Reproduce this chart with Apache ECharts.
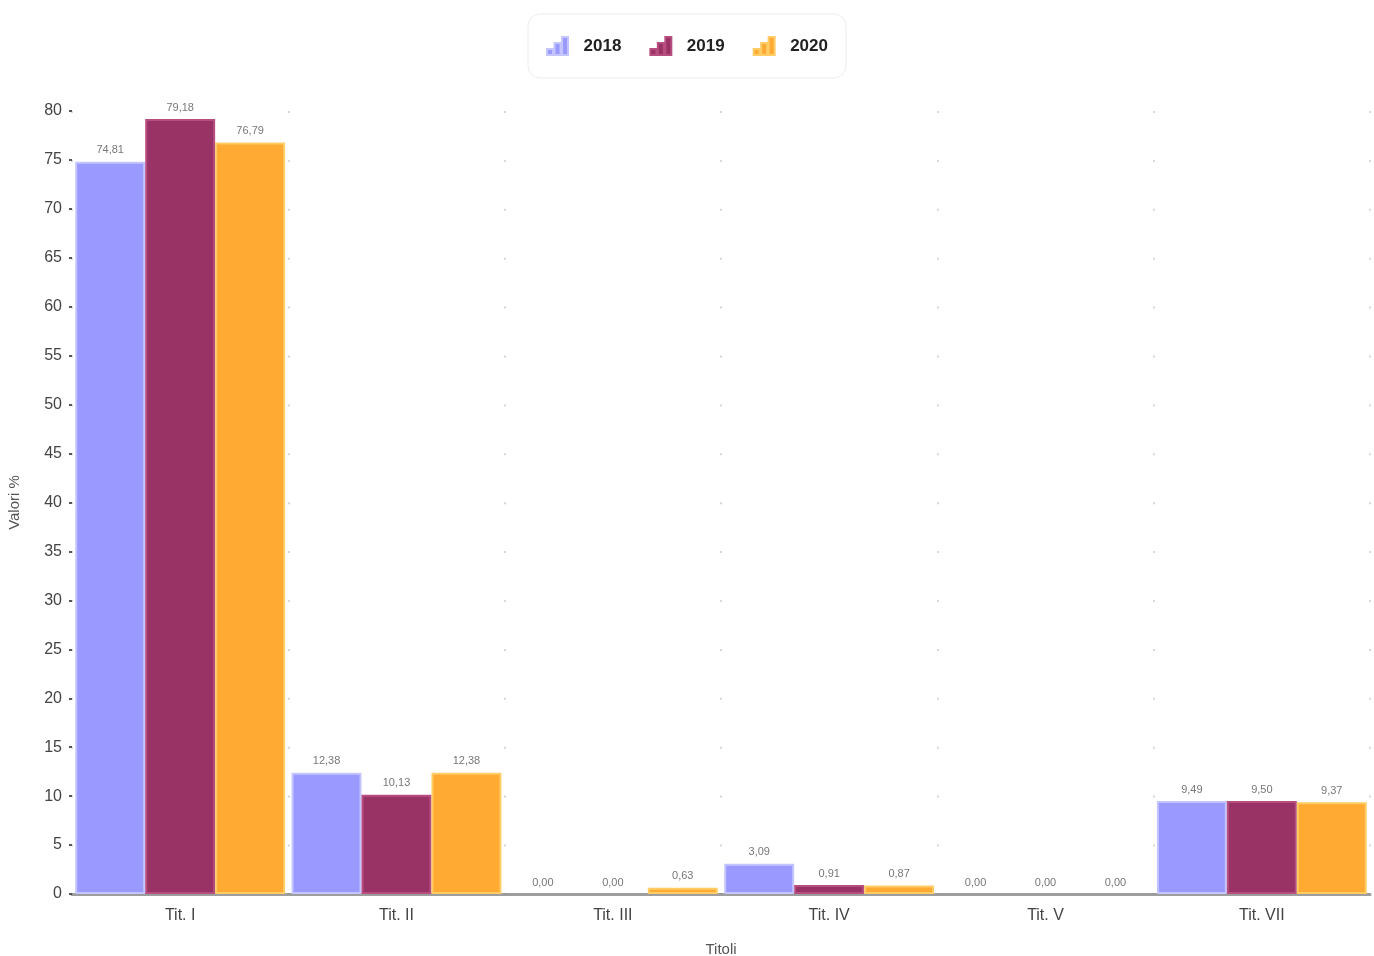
<!DOCTYPE html>
<html><head><meta charset="utf-8">
<script src="https://cdn.jsdelivr.net/npm/echarts@6/dist/echarts.min.js"></script>
<style>html,body{margin:0;padding:0;background:#fff}#c{width:1374px;height:956px}</style>
</head><body><div id="c"></div>
<script>
const categories = ['Tit. I', 'Tit. II', 'Tit. III', 'Tit. IV', 'Tit. V', 'Tit. VII'];
const years = ['2018', '2019', '2020'];
const v2018 = [74.81, 12.38, 0.00, 3.09, 0.00, 9.49];
const v2019 = [79.18, 10.13, 0.00, 0.91, 0.00, 9.50];
const v2020 = [76.79, 12.38, 0.63, 0.87, 0.00, 9.37];
const colors = ['#9999ff', '#993366', '#ffaa33'];
const borders = ['#c4c4ff', '#b84d80', '#ffcc66'];
const icon = 'path://M0,12 L4,12 L4,8 L0,8 Z M5,12 L9,12 L9,4 L5,4 Z M10,12 L14,12 L14,0 L10,0 Z';
const fmt = v => v.toFixed(2).replace('.', ',');
const seriesData = [v2018, v2019, v2020];
const chart = echarts.init(document.getElementById('c'));
chart.setOption({
  animation: false,
  legend: {
    top: 14, left: 'center',
    data: years,
    icon: icon,
    itemWidth: 22, itemHeight: 18, itemGap: 28,
    padding: [22, 18, 22, 18],
    borderColor: '#ececec', borderWidth: 1, borderRadius: 12,
    textStyle: { fontSize: 17, fontWeight: 'bold', color: '#222', fontFamily: 'Liberation Sans', padding: [0, 0, 0, 10] }
  },
  grid: { left: 72, right: 4, top: 111, bottom: 62, containLabel: false, outerBoundsMode: 'none' },
  xAxis: {
    type: 'category', data: categories,
    name: 'Titoli', nameLocation: 'middle', nameGap: 48,
    nameTextStyle: { fontSize: 15, color: '#555', fontFamily: 'Liberation Sans' },
    axisLine: { lineStyle: { color: 'rgba(40,40,40,0.45)', width: 3 } },
    axisTick: { show: false },
    axisLabel: { fontSize: 16, color: '#444', margin: 14, fontFamily: 'Liberation Sans' },
    splitLine: { show: true, lineStyle: { color: '#d8d8d8', width: 2, type: [2, 46.9] } }
  },
  yAxis: {
    type: 'value', min: 0, max: 80, interval: 5,
    name: 'Valori %', nameLocation: 'middle', nameGap: 50, nameRotate: 90,
    nameTextStyle: { fontSize: 15, color: '#555', fontFamily: 'Liberation Sans' },
    axisLine: { show: false },
    axisTick: { show: true, length: 3, lineStyle: { color: '#555', width: 2 } },
    axisLabel: { fontSize: 16, color: '#444', margin: 10, fontFamily: 'Liberation Sans' },
    splitLine: { show: false }
  },
  series: years.map((y, i) => ({
    name: y, type: 'bar',
    data: seriesData[i].map(v => v === 0 ? { value: v, itemStyle: { borderWidth: 0, opacity: 0 } } : v),
    barGap: '0%', barCategoryGap: '3%',
    itemStyle: { color: colors[i], borderColor: borders[i], borderWidth: 2 },
    label: { show: true, position: 'top', distance: 6, formatter: p => fmt(p.value), opacity: 1,
      fontSize: 11, color: '#777', fontFamily: 'Liberation Sans' }
  }))
});
</script></body></html>
